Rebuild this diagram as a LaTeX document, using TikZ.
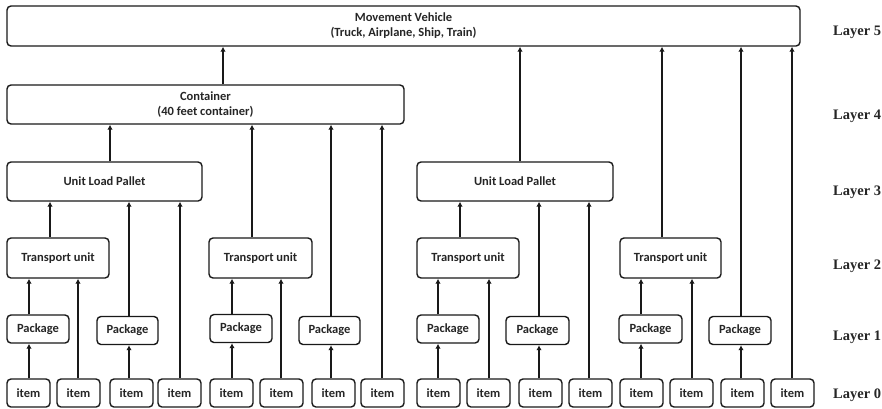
\documentclass[tikz,border=0pt]{standalone}
\usepackage{fontspec}
\setmainfont{Carlito}
\newfontfamily\layerfont{Liberation Serif}
\usetikzlibrary{arrows.meta}

\tikzset{
  box/.style={draw=black!90, line width=1.4pt, rounded corners=4pt, inner sep=0pt,
    align=center, text=black!85, font=\fontsize{12.5}{15}\selectfont\bfseries},
  arr/.style={draw=black!90, line width=1.6pt, -{Latex[length=5pt,width=5.5pt]}},
  layerlbl/.style={anchor=west, inner sep=0pt, text=black!85,
    font=\layerfont\fontsize{14.5}{16}\selectfont\bfseries}
}

% vertical connector at a given x between two named boxes
\newcommand\lnk[3]{\draw[arr] (#2.north -| #1,0) -- (#3.south -| #1,0);}

\begin{document}
\begin{tikzpicture}[x=1pt,y=-1pt]
\useasboundingbox[fill=white] (0,0) rectangle (882,408);

% layer 5
\node[box, minimum width=793pt, minimum height=40pt] (mv) at (403.5,26)
  {Movement Vehicle\\(Truck, Airplane, Ship, Train)};
% layer 4
\node[box, minimum width=397pt, minimum height=39pt] (cont) at (205.5,104.5)
  {Container\\(40 feet container)};
% layer 3
\node[box, minimum width=195pt, minimum height=39pt] (ulpA) at (104.5,181.5) {Unit Load Pallet};
\node[box, minimum width=196pt, minimum height=39pt] (ulpB) at (515,181.5) {Unit Load Pallet};
% layer 2
\node[box, minimum width=102pt, minimum height=40pt] (tu1) at (58,258) {Transport unit};
\node[box, minimum width=103pt, minimum height=40pt] (tu2) at (260.5,258) {Transport unit};
\node[box, minimum width=102pt, minimum height=40pt] (tu3) at (468,258) {Transport unit};
\node[box, minimum width=101pt, minimum height=40pt] (tu4) at (670.5,258) {Transport unit};
% layer 1
\node[box, minimum width=62pt, minimum height=28pt] (p1) at (38,329) {Package};
\node[box, minimum width=61pt, minimum height=28pt] (p2) at (127.5,330.5) {Package};
\node[box, minimum width=62pt, minimum height=28pt] (p3) at (241,328.5) {Package};
\node[box, minimum width=61pt, minimum height=28pt] (p4) at (329.5,330.5) {Package};
\node[box, minimum width=62pt, minimum height=28pt] (p5) at (448,329) {Package};
\node[box, minimum width=63pt, minimum height=28pt] (p6) at (537.5,330.5) {Package};
\node[box, minimum width=63pt, minimum height=28pt] (p7) at (650.5,329) {Package};
\node[box, minimum width=62pt, minimum height=28pt] (p8) at (740,330.5) {Package};
% layer 0
\foreach \n/\cx in {1/28.5,2/78.5,3/131.5,4/179.5,5/231.5,6/281.5,7/333.5,8/382.5,
                    9/438.5,10/488.5,11/540.5,12/590.5,13/641.5,14/691.5,15/742.5,16/792.5}
  \node[box, minimum width=43pt, minimum height=28pt] (i\n) at (\cx,393) {item};

% connectors, left container group
\lnk{29}{i1}{p1}  \lnk{29}{p1}{tu1}  \lnk{78}{i2}{tu1}
\lnk{129}{i3}{p2} \lnk{129}{p2}{ulpA} \lnk{180}{i4}{ulpA}
\lnk{50}{tu1}{ulpA} \lnk{110}{ulpA}{cont}
\lnk{232}{i5}{p3} \lnk{232}{p3}{tu2} \lnk{281}{i6}{tu2}
\lnk{331}{i7}{p4} \lnk{331}{p4}{cont} \lnk{382}{i8}{cont}
\lnk{252}{tu2}{cont} \lnk{223}{cont}{mv}
% connectors, right group
\lnk{438}{i9}{p5} \lnk{438}{p5}{tu3} \lnk{489}{i10}{tu3}
\lnk{539}{i11}{p6} \lnk{539}{p6}{ulpB} \lnk{589}{i12}{ulpB}
\lnk{460}{tu3}{ulpB} \lnk{520}{ulpB}{mv}
\lnk{641}{i13}{p7} \lnk{641}{p7}{tu4} \lnk{692}{i14}{tu4}
\lnk{741}{i15}{p8} \lnk{741}{p8}{mv} \lnk{792}{i16}{mv}
\lnk{662}{tu4}{mv}

% layer labels
\node[layerlbl] (l5) at (833,32) {Layer 5};
\node[layerlbl] (l4) at (833,116) {Layer 4};
\node[layerlbl] (l3) at (833,192) {Layer 3};
\node[layerlbl] (l2) at (833,266) {Layer 2};
\node[layerlbl] (l1) at (833,337) {Layer 1};
\node[layerlbl] (l0) at (833,395) {Layer 0};
\end{tikzpicture}
\end{document}
